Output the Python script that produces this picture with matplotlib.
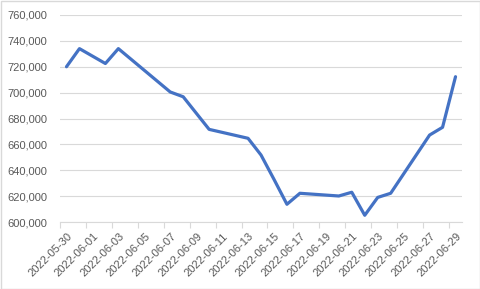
import matplotlib
matplotlib.use("Agg")
import matplotlib.pyplot as plt
import matplotlib.ticker as mticker
import matplotlib.transforms as mtransforms
import matplotlib.dates as mdates
import pandas as pd

dates = ["2022-05-30", "2022-05-31", "2022-06-02", "2022-06-03", "2022-06-07",
         "2022-06-08", "2022-06-10", "2022-06-13", "2022-06-14", "2022-06-15",
         "2022-06-16", "2022-06-17", "2022-06-20", "2022-06-21", "2022-06-22",
         "2022-06-23", "2022-06-24", "2022-06-27", "2022-06-28", "2022-06-29"]
values = [720000, 734000, 722500, 734000, 700500,
          696800, 671600, 664700, 651800, 633000,
          613700, 622200, 620100, 623000, 605200,
          619000, 622200, 667200, 673200, 712300]
tick_start = "2022-05-30"
tick_end = "2022-06-29"

plt.rcParams['font.family'] = ['Liberation Sans', 'DejaVu Sans']

fig = plt.figure(figsize=(4.8, 2.89), dpi=100)
ax = fig.add_axes([60/480, 1-222/289, 402/480, 207/289])

x = pd.to_datetime(dates) + pd.Timedelta(hours=12)
ax.plot(x, values, color='#4472C4', linewidth=2.3, solid_joinstyle='round', solid_capstyle='round')

start = pd.Timestamp(tick_start)
end = pd.Timestamp(tick_end) + pd.Timedelta(days=1)
ax.set_xlim(start, end)
ax.set_ylim(600000, 760000)

ticks = pd.date_range(tick_start, tick_end, freq='2D')
ax.set_xticks(ticks)
ax.set_xticklabels([])
base = mtransforms.blended_transform_factory(ax.transData, ax.transAxes)
offset = mtransforms.ScaledTranslation(7/100, -9/100, fig.dpi_scale_trans)
for t in ticks:
    ax.text(mdates.date2num(t), 0, t.strftime('%Y-%m-%d'), transform=base + offset,
            rotation=45, ha='right', va='top', rotation_mode='anchor',
            fontsize=8, color='#595959', clip_on=False)

ax.yaxis.set_major_locator(mticker.MultipleLocator(20000))
ax.yaxis.set_major_formatter(mticker.FuncFormatter(lambda v, p: f"{int(v):,}"))
for lab in ax.get_yticklabels():
    lab.set_fontsize(8)
    lab.set_color('#595959')

ax.grid(axis='y', color='#D9D9D9', linewidth=0.8)
ax.set_axisbelow(True)
for s in ['top', 'right', 'left']:
    ax.spines[s].set_visible(False)
ax.spines['bottom'].set_color('#D9D9D9')
ax.spines['bottom'].set_linewidth(0.8)
ax.tick_params(axis='y', length=0, pad=9)
ax.tick_params(axis='x', length=4, color='#D9D9D9', width=0.8, pad=2)

fig.patches.append(plt.Rectangle((0.5/480, 0.5/289), 1-1/480, 1-1/289, transform=fig.transFigure,
                                 fill=False, edgecolor='#D9D9D9', linewidth=1))

fig.savefig('out.png', dpi=100, facecolor='white')
